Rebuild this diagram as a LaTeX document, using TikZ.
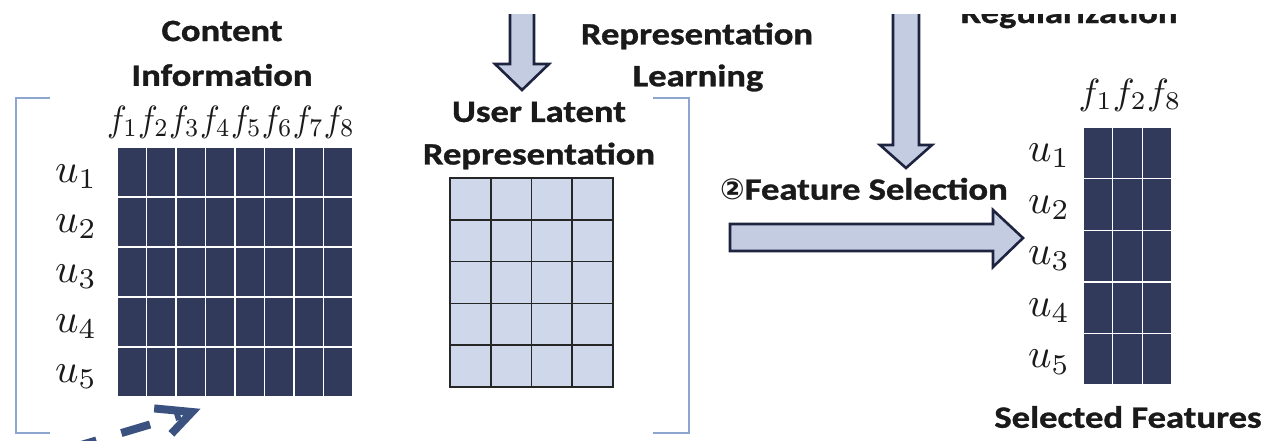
\documentclass[tikz,border=0pt]{standalone}
\usepackage{fontspec}
\setmainfont{Carlito}[BoldFeatures={FakeBold=1}]
\newfontfamily\symfont{DejaVu Sans}
\usetikzlibrary{calc}
\definecolor{cellnavy}{HTML}{323A5C}
\definecolor{cellpale}{HTML}{CFD8EA}
\definecolor{arrowfill}{HTML}{C3CCE0}
\definecolor{arrowline}{HTML}{1E2440}
\definecolor{bracketblue}{HTML}{8DA6CF}
\definecolor{dashblue}{HTML}{3B5280}
\definecolor{inktext}{HTML}{1A1A1A}
\newcommand{\hwide}[1]{\scalebox{1.18}[1]{#1}}
\newcommand{\umath}[1]{\scalebox{4.1}{$#1$}}
\newcommand{\fmath}[1]{\scalebox{3.65}{$#1$}}
\newcommand{\fmathtight}[1]{\scalebox{3.3}[3.65]{$#1$}}
\tikzset{
  title/.style={font=\fontsize{31}{31}\selectfont\bfseries, text=inktext, inner sep=0pt, align=center},
  mlabel/.style={text=inktext, inner sep=0pt},
  darkcell/.style={fill=cellnavy, draw=white, line width=1.4pt},
  palecell/.style={fill=cellpale, draw=black!85, line width=1.6pt},
  blockarrow/.style={fill=arrowfill, draw=arrowline, line width=2.6pt, line join=miter},
  bracket/.style={draw=bracketblue, line width=1.8pt},
  dashtrail/.style={draw=dashblue, line width=8pt, dash pattern=on 30pt off 26pt},
  dashhead/.style={draw=dashblue, line width=8pt, line join=miter, line cap=butt}
}
\begin{document}
\begin{tikzpicture}[x=1pt,y=-1pt]
\useasboundingbox (0,0) rectangle (1267,440);
\clip (0,0) rectangle (1267,440);
\fill[white] (0,0) rectangle (1267,440);

% ---- content information matrix (5 users x 8 features)
\foreach \r in {0,...,4}{
  \foreach \c in {0,...,7}{
    \fill[darkcell] ({117+29.5*\c},{147+50*\r}) rectangle ++(29.5,50);
  }
}
\node[mlabel] (cfeat) at (231,122) {\fmathtight{f_1f_2f_3f_4f_5f_6f_7f_8}};
\foreach \r in {1,...,5}{
  \node[mlabel] (cu\r) at (76,{147+50*(\r-0.5)+5}) {\umath{u_{\r}}};
}
\node[title] (ctitle1) at (222,31) {\hwide{Content}};
\node[title] (ctitle2) at (222,75) {\hwide{Information}};

% ---- left bracket
\draw[bracket] (50,98) -- (16,98) -- (16,433) -- (50,433);

% ---- dashed arrow leaving the bottom
\coordinate (dstart) at (14,465);
\coordinate (dtip) at (192,412);
\draw[dashtrail] (dstart) -- ($(dtip)!12pt!(dstart)$);
\draw[dashhead] ($(dtip)!38pt!-22:(dstart)$) -- (dtip) -- ($(dtip)!30pt!30:(dstart)$);

% ---- user latent representation grid (5 x 4)
\foreach \r in {0,...,4}{
  \foreach \c in {0,...,3}{
    \draw[palecell] ({450+40.75*\c},{178+41.8*\r}) rectangle ++(40.75,41.8);
  }
}
\node[title] (utitle1) at (539,112) {\hwide{User Latent}};
\node[title] (utitle2) at (539,156) {\hwide{Representation}};

% ---- right bracket of the middle block
\draw[bracket] (653,98) -- (689,98) -- (689,433) -- (653,433);

% ---- representation learning arrow (from above)
\coordinate (rl-tip) at (522,90);
\draw[blockarrow] (510,-5) -- (510,64) -- (495,64) -- (rl-tip) -- (549,64) -- (534,64) -- (534,-5) -- cycle;
\node[title] (rltitle1) at (697,36) {\hwide{Representation}};
\node[title] (rltitle2) at (698,78) {\hwide{Learning}};

% ---- regularization arrow (from above)
\coordinate (rg-tip) at (906,168);
\draw[blockarrow] (893,-5) -- (893,145) -- (880,145) -- (rg-tip) -- (932,145) -- (919,145) -- (919,-5) -- cycle;
\node[title, anchor=base] (rgtitle) at (1069,23) {\hwide{Regularization}};

% ---- feature selection arrow
\coordinate (fs-tail) at (730,237);
\coordinate (fs-tip) at (1023,238);
\draw[blockarrow] (fs-tail) -- (730,224) -- (993,224) -- (993,210) -- (fs-tip) -- (993,267) -- (993,251) -- (730,251) -- cycle;
\node[title] (fstitle) at (864,189) {{\symfont\fontsize{29}{29}\selectfont ②}\hwide{Feature Selection}};

% ---- selected features matrix (5 users x 3 features)
\foreach \r in {0,...,4}{
  \foreach \c in {0,...,2}{
    \fill[darkcell] ({1083+29.7*\c},{127+51.6*\r}) rectangle ++(29.7,51.6);
  }
}
\node[mlabel] (sfeat) at (1130,95) {\fmath{f_1f_2f_8}};
\foreach \r in {1,...,5}{
  \node[mlabel] (su\r) at (1049,{127+51.6*(\r-0.5)+3}) {\umath{u_{\r}}};
}
\node[title] (stitle) at (1128,417) {\hwide{Selected Features}};

% ---- blank top margin over the cut-off upper part
\fill[white] (-1,-1) rectangle (1268,14);
\end{tikzpicture}
\end{document}
